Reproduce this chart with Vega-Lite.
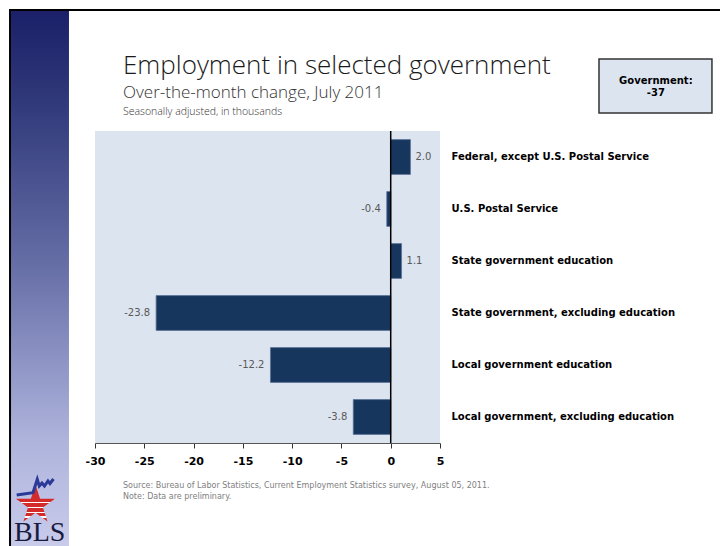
{
  "$schema": "https://vega.github.io/schema/vega-lite/v6.json",
  "width": 345,
  "height": 312,
  "autosize": {"type": "none"},
  "padding": {"left": 95, "top": 131, "right": 280, "bottom": 103},
  "background": "white",
  "view": {"fill": "#dce4f0", "stroke": null},
  "config": {"locale": {"number": {"decimal": ".", "thousands": ",", "grouping": [3], "currency": ["$", ""], "minus": "-"}}},
  "title": {
    "text": "Employment in selected government",
    "subtitle": "Over-the-month change, July 2011",
    "anchor": "start",
    "frame": "group",
    "dx": 28,
    "offset": -93,
    "font": "Open Sans",
    "fontSize": 26,
    "fontWeight": 300,
    "color": "#1a1a1a",
    "subtitleFont": "Open Sans",
    "subtitleFontSize": 17,
    "subtitleFontWeight": 300,
    "subtitleColor": "#333333",
    "subtitlePadding": 6
  },
  "data": {
    "values": [
      {"category": "Federal, except U.S. Postal Service", "change": 2.0},
      {"category": "U.S. Postal Service", "change": -0.4},
      {"category": "State government education", "change": 1.1},
      {"category": "State government, excluding education", "change": -23.8},
      {"category": "Local government education", "change": -12.2},
      {"category": "Local government, excluding education", "change": -3.8}
    ]
  },
  "layer": [
    {
      "layer": [
        {
          "mark": {"type": "bar", "color": "#17365d", "stroke": "#5b7399", "strokeWidth": 0.8},
          "encoding": {
            "y": {
              "field": "category", "type": "nominal", "sort": null,
              "scale": {"paddingInner": 0.33},
              "axis": {"orient": "right", "title": null, "domain": false, "ticks": false, "labelPadding": 11,
                       "labelFont": "DejaVu Sans", "labelFontSize": 10, "labelFontWeight": "bold",
                       "labelColor": "#000000", "labelLimit": 300, "labelAlign": "left"}
            },
            "x": {
              "field": "change", "type": "quantitative",
              "scale": {"domain": [-30, 5], "nice": false},
              "axis": {"values": [-30, -25, -20, -15, -10, -5, 0, 5], "title": null, "grid": false,
                       "domainColor": "#555555", "tickColor": "#333333", "tickSize": 5,
                       "labelFont": "DejaVu Sans", "labelFontSize": 11, "labelFontWeight": "bold",
                       "labelColor": "#000000", "labelPadding": 7, "labelFlush": false, "labelOverlap": false}
            }
          }
        },
        {
          "data": {"values": [{}]},
          "mark": {"type": "rule", "color": "#000000", "strokeWidth": 1.5},
          "encoding": {"x": {"datum": 0, "type": "quantitative"}}
        },
        {
          "transform": [{"filter": "datum.change >= 0"}],
          "mark": {"type": "text", "align": "left", "dx": 5, "font": "DejaVu Sans", "fontSize": 10, "color": "#595959"},
          "encoding": {
            "y": {"field": "category", "type": "nominal", "sort": null},
            "x": {"field": "change", "type": "quantitative"},
            "text": {"field": "change", "type": "quantitative", "format": ".1f"}
          }
        },
        {
          "transform": [{"filter": "datum.change < 0"}],
          "mark": {"type": "text", "align": "right", "dx": -6, "font": "DejaVu Sans", "fontSize": 10, "color": "#595959"},
          "encoding": {
            "y": {"field": "category", "type": "nominal", "sort": null},
            "x": {"field": "change", "type": "quantitative"},
            "text": {"field": "change", "type": "quantitative", "format": ".1f"}
          }
        }
      ]
    },
    {
      "layer": [
        {
          "data": {"values": [{}]},
          "mark": {"type": "rect", "fill": {"gradient": "linear", "x1": 0, "y1": 0, "x2": 0, "y2": 1,
            "stops": [{"offset": 0, "color": "#1b2068"}, {"offset": 0.17, "color": "#30397a"},
                      {"offset": 0.485, "color": "#6870a8"}, {"offset": 0.8, "color": "#aeb3dc"},
                      {"offset": 1, "color": "#c8cbea"}]}},
          "encoding": {
            "x": {"datum": -38.52, "type": "quantitative", "scale": {"domain": [-30, 5], "nice": false, "zero": false}, "axis": null},
            "x2": {"datum": -32.64},
            "y": {"datum": -2.308, "type": "quantitative", "scale": {"domain": [0, 6], "reverse": true, "nice": false, "zero": false}, "axis": null},
            "y2": {"datum": 7.981}
          }
        },
        {
          "data": {"values": [{}]},
          "mark": {"type": "rule", "color": "#000000", "strokeWidth": 2},
          "encoding": {
            "x": {"datum": -38.72, "type": "quantitative", "scale": {"domain": [-30, 5], "nice": false, "zero": false}, "axis": null},
            "x2": {"datum": 33.41},
            "y": {"datum": -2.327, "type": "quantitative", "scale": {"domain": [0, 6], "reverse": true, "nice": false, "zero": false}, "axis": null}
          }
        },
        {
          "data": {"values": [{}]},
          "mark": {"type": "rule", "color": "#000000", "strokeWidth": 2},
          "encoding": {
            "x": {"datum": -38.62, "type": "quantitative", "scale": {"domain": [-30, 5], "nice": false, "zero": false}, "axis": null},
            "y": {"datum": -2.346, "type": "quantitative", "scale": {"domain": [0, 6], "reverse": true, "nice": false, "zero": false}, "axis": null},
            "y2": {"datum": 7.981}
          }
        },
        {
          "data": {"values": [{}]},
          "mark": {"type": "rect", "fill": "#dce4f0", "stroke": "#333333", "strokeWidth": 1.5},
          "encoding": {
            "x": {"datum": 21.13, "type": "quantitative", "scale": {"domain": [-30, 5], "nice": false, "zero": false}, "axis": null},
            "x2": {"datum": 32.59},
            "y": {"datum": -1.385, "type": "quantitative", "scale": {"domain": [0, 6], "reverse": true, "nice": false, "zero": false}, "axis": null},
            "y2": {"datum": -0.346}
          }
        },
        {
          "data": {"values": [{}]},
          "mark": {"type": "text", "text": ["Government:", "-37"], "lineHeight": 12, "align": "center", "baseline": "middle",
                   "font": "DejaVu Sans", "fontSize": 10, "fontWeight": "bold", "color": "#000000"},
          "encoding": {
            "x": {"datum": 26.9, "type": "quantitative", "scale": {"domain": [-30, 5], "nice": false, "zero": false}, "axis": null},
            "y": {"datum": -0.9615, "type": "quantitative", "scale": {"domain": [0, 6], "reverse": true, "nice": false, "zero": false}, "axis": null}
          }
        },
        {
          "data": {"values": [{}]},
          "mark": {"type": "text", "text": "Seasonally adjusted, in thousands", "align": "left", "baseline": "alphabetic",
                   "font": "Open Sans", "fontSize": 10.5, "fontWeight": 300, "color": "#333333"},
          "encoding": {
            "x": {"datum": -27.16, "type": "quantitative", "scale": {"domain": [-30, 5], "nice": false, "zero": false}, "axis": null},
            "y": {"datum": -0.308, "type": "quantitative", "scale": {"domain": [0, 6], "reverse": true, "nice": false, "zero": false}, "axis": null}
          }
        },
        {
          "data": {"values": [{}]},
          "mark": {"type": "text", "text": ["Source: Bureau of Labor Statistics, Current Employment Statistics survey, August 05, 2011.", "Note: Data are preliminary."],
                   "lineHeight": 11, "align": "left", "baseline": "alphabetic",
                   "font": "DejaVu Sans", "fontSize": 8, "color": "#808080"},
          "encoding": {
            "x": {"datum": -27.16, "type": "quantitative", "scale": {"domain": [-30, 5], "nice": false, "zero": false}, "axis": null},
            "y": {"datum": 6.865, "type": "quantitative", "scale": {"domain": [0, 6], "reverse": true, "nice": false, "zero": false}, "axis": null}
          }
        },
        {
          "data": {"values": [{}]},
          "mark": {"type": "point", "filled": true, "opacity": 1, "strokeWidth": 0, "size": 1681,
                   "shape": "M0,-1L0.2245,-0.309L0.951,-0.309L0.363,0.118L0.588,0.809L0,0.382L-0.588,0.809L-0.363,0.118L-0.951,-0.309L-0.2245,-0.309Z",
                   "fill": {"gradient": "linear", "x1": 0, "y1": 0, "x2": 0, "y2": 1,
                     "stops": [{"offset": 0, "color": "#d42a2a"}, {"offset": 0.47, "color": "#d42a2a"},
                               {"offset": 0.47, "color": "#ffffff"}, {"offset": 0.51, "color": "#ffffff"},
                               {"offset": 0.51, "color": "#d42a2a"}, {"offset": 0.6, "color": "#d42a2a"},
                               {"offset": 0.6, "color": "#ffffff"}, {"offset": 0.64, "color": "#ffffff"},
                               {"offset": 0.64, "color": "#d42a2a"}, {"offset": 0.73, "color": "#d42a2a"},
                               {"offset": 0.73, "color": "#ffffff"}, {"offset": 0.77, "color": "#ffffff"},
                               {"offset": 0.77, "color": "#d42a2a"}, {"offset": 0.86, "color": "#d42a2a"},
                               {"offset": 0.86, "color": "#ffffff"}, {"offset": 0.9, "color": "#ffffff"},
                               {"offset": 0.9, "color": "#d42a2a"}, {"offset": 1, "color": "#d42a2a"}]}},
          "encoding": {
            "x": {"datum": -36.04, "type": "quantitative", "scale": {"domain": [-30, 5], "nice": false, "zero": false}, "axis": null},
            "y": {"datum": 7.192, "type": "quantitative", "scale": {"domain": [0, 6], "reverse": true, "nice": false, "zero": false}, "axis": null}
          }
        },
        {
          "data": {"values": [{}]},
          "mark": {"type": "point", "filled": false, "opacity": 1, "strokeWidth": 3, "size": 1444, "color": "#2a3898",
                   "shape": "M-0.963,0.421L-0.105,0.3L0.121,-0.405L0.226,-0.053L0.368,-0.21L0.5,-0.053L0.684,-0.316L0.79,-0.184L0.974,-0.421"},
          "encoding": {
            "x": {"datum": -36.09, "type": "quantitative", "scale": {"domain": [-30, 5], "nice": false, "zero": false}, "axis": null},
            "y": {"datum": 6.846, "type": "quantitative", "scale": {"domain": [0, 6], "reverse": true, "nice": false, "zero": false}, "axis": null}
          }
        },
        {
          "data": {"values": [{}]},
          "mark": {"type": "text", "text": "BLS", "align": "left", "baseline": "alphabetic",
                   "font": "Liberation Serif", "fontSize": 28, "color": "#1a1a40"},
          "encoding": {
            "x": {"datum": -38.22, "type": "quantitative", "scale": {"domain": [-30, 5], "nice": false, "zero": false}, "axis": null},
            "y": {"datum": 7.885, "type": "quantitative", "scale": {"domain": [0, 6], "reverse": true, "nice": false, "zero": false}, "axis": null}
          }
        }
      ]
    }
  ],
  "resolve": {"scale": {"x": "independent", "y": "independent"}, "axis": {"x": "independent", "y": "independent"}}
}
